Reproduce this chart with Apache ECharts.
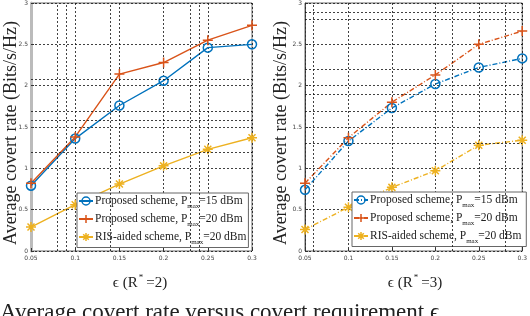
<!DOCTYPE html>
<html><head><meta charset="utf-8">
<script src="https://cdn.jsdelivr.net/npm/echarts@6/dist/echarts.min.js"></script>
<style>html,body{margin:0;padding:0;background:#fff}#c{width:530px;height:316px}</style>
</head><body><div id="c"></div>
<script>
var xCats = ['0.05','0.1','0.15','0.2','0.25','0.3'];
var yTicks = ['0','0.5','1','1.5','2','2.5','3'];
var leftProposed15 = [0.79, 1.36, 1.76, 2.06, 2.46, 2.50];
var leftProposed20 = [0.82, 1.38, 2.14, 2.28, 2.55, 2.73];
var leftRis20 = [0.29, 0.56, 0.81, 1.03, 1.23, 1.37];
var rightProposed15 = [0.74, 1.33, 1.73, 2.02, 2.22, 2.33];
var rightProposed20 = [0.82, 1.37, 1.80, 2.13, 2.50, 2.66];
var rightRis20 = [0.26, 0.53, 0.77, 0.97, 1.28, 1.34];
var seriesNames = ['Proposed scheme, P{s|max}=15 dBm','Proposed scheme, P{s|max}=20 dBm','RIS-aided scheme, P{s|max}=20 dBm'];
// extra (ghost) grid lines visible in the scanned figure
var leftExtraY = [2.08, 1.69, 1.58, 1.19];
var leftExtraX = [0.08, 0.092, 0.138, 0.231, 0.242];
var rightExtraY = [2.89, 2.80, 2.20, 1.90, 1.69, 1.30];
var rightExtraX = [0.06, 0.222, 0.284];

var BLUE='#0072BD', RED='#D95319', YEL='#EDB120';
var plusPath='path://M0,5L10,5M5,0L5,10';
var starPath='path://M0,5L10,5M5,0L5,10M1.5,1.5L8.5,8.5M1.5,8.5L8.5,1.5';
var chart = echarts.init(document.getElementById('c'), null, {renderer:'canvas'});
var serif = 'Liberation Serif, DejaVu Serif, serif';
var gridLine = {color:'#111',type:[2,2],width:0.8};
function xAx(gi){return {type:'value',gridIndex:gi,min:0.05,max:0.3,interval:0.05,
  axisLine:{show:false},axisTick:{show:true,inside:true,length:3,lineStyle:{color:'#333'}},
  axisLabel:{fontSize:6,color:'#444',margin:4,fontFamily:'DejaVu Sans',formatter:function(v){var i=Math.round(v/0.05)-1;return xCats[i]||'';}},
  splitLine:{show:true,lineStyle:gridLine}};}
function yAx(gi,leftGrey){return {type:'value',gridIndex:gi,min:0,max:3,interval:0.5,
  axisLine:{show:true,lineStyle:{color:leftGrey?'#bbb':'#333',width:leftGrey?3:0.8}},
  axisTick:{show:true,inside:true,length:3,lineStyle:{color:'#333'}},
  axisLabel:{fontSize:6,color:'#444',margin:3,fontFamily:'DejaVu Sans',formatter:function(v){return yTicks[Math.round(v*2)];}},
  splitLine:{show:true,lineStyle:gridLine}};}
function pts(arr){return arr.map(function(v,i){return [parseFloat(xCats[i]),v];});}
function mk(name,data,gi,color,sym,size,dashed){
  var circ = sym==='circle';
  return {name:name,type:'line',xAxisIndex:gi,yAxisIndex:gi,data:pts(data),z:3,
    symbol:sym,symbolSize:size,showSymbol:true,
    lineStyle:{color:color,width:1.4,type:dashed?[5,2,1,2]:'solid'},
    itemStyle:{color:circ?'rgba(255,255,255,0)':color,borderColor:color,borderWidth:1.5}};
}
function ghost(gi,xs,ys){
  var d=[];xs.forEach(function(x){d.push({xAxis:x});});ys.forEach(function(y){d.push({yAxis:y});});
  return {type:'line',xAxisIndex:gi,yAxisIndex:gi,data:[],silent:true,z:1,
    markLine:{symbol:'none',silent:true,label:{show:false},lineStyle:{color:'#111',type:[2,2],width:0.8},data:d,animation:false}};
}
var rich={s:{fontSize:7,verticalAlign:'bottom',padding:[10,0,0,0],fontFamily:serif,color:'#222'}};
function legend(left,top,names){return {left:left,top:top,orient:'vertical',itemGap:3.5,itemWidth:14,itemHeight:10,
  backgroundColor:'#fff',borderColor:'#666',borderWidth:1,padding:[2,2,2,1],
  data:names,selectedMode:false,itemStyle:{borderWidth:1.5},
  textStyle:{fontFamily:serif,fontSize:11.5,color:'#222',rich:rich,padding:[0,0,0,-3]}
};}
var rNames = seriesNames.map(function(n){return n+' ';});
var opt={animation:false,backgroundColor:'#fff',
 grid:[{left:31,top:1,width:221,height:250,show:true,borderColor:'#444',borderWidth:0.8,backgroundColor:'transparent'},
       {left:305,top:2,width:220,height:249,show:true,borderColor:'#444',borderWidth:0.8,backgroundColor:'transparent'}],
 xAxis:[xAx(0),xAx(1)], yAxis:[yAx(0,true),yAx(1,false)],
 legend:[legend(77,193,seriesNames.slice()),legend(352,192,rNames)],
 series:[
  ghost(0,leftExtraX,leftExtraY), ghost(1,rightExtraX,rightExtraY),
  mk(seriesNames[0],leftProposed15,0,BLUE,'circle',9,false),
  mk(seriesNames[1],leftProposed20,0,RED,plusPath,10,false),
  mk(seriesNames[2],leftRis20,0,YEL,starPath,10,false),
  mk(rNames[0],rightProposed15,1,BLUE,'circle',9,true),
  mk(rNames[1],rightProposed20,1,RED,plusPath,10,true),
  mk(rNames[2],rightRis20,1,YEL,starPath,10,true)
 ],
 graphic:[
  {type:'text',rotation:Math.PI/2,x:11,y:133,style:{text:'Average covert rate (Bits/s/Hz)',font:'18px '+serif,fill:'#222',textAlign:'center',textVerticalAlign:'middle'}},
  {type:'text',rotation:Math.PI/2,x:281,y:133,style:{text:'Average covert rate (Bits/s/Hz)',font:'18px '+serif,fill:'#222',textAlign:'center',textVerticalAlign:'middle'}},
  {type:'text',x:140,y:283,style:{text:'{n|\u03F5 (R}{sup|*}{n|=2)}',textAlign:'center',textVerticalAlign:'middle',rich:{n:{font:'15px '+serif,fill:'#222'},sup:{font:'9px '+serif,fill:'#222',padding:[0,3,10,1]}}}},
  {type:'text',x:415,y:283,style:{text:'{n|\u03F5 (R}{sup|*}{n|=3)}',textAlign:'center',textVerticalAlign:'middle',rich:{n:{font:'15px '+serif,fill:'#222'},sup:{font:'9px '+serif,fill:'#222',padding:[0,3,10,1]}}}},
  {type:'text',x:0,y:301,style:{text:'Average covert rate versus covert requirement \u03F5.',font:'23px '+serif,fill:'#222',textVerticalAlign:'top'}}
 ]
};
chart.setOption(opt);
</script></body></html>
